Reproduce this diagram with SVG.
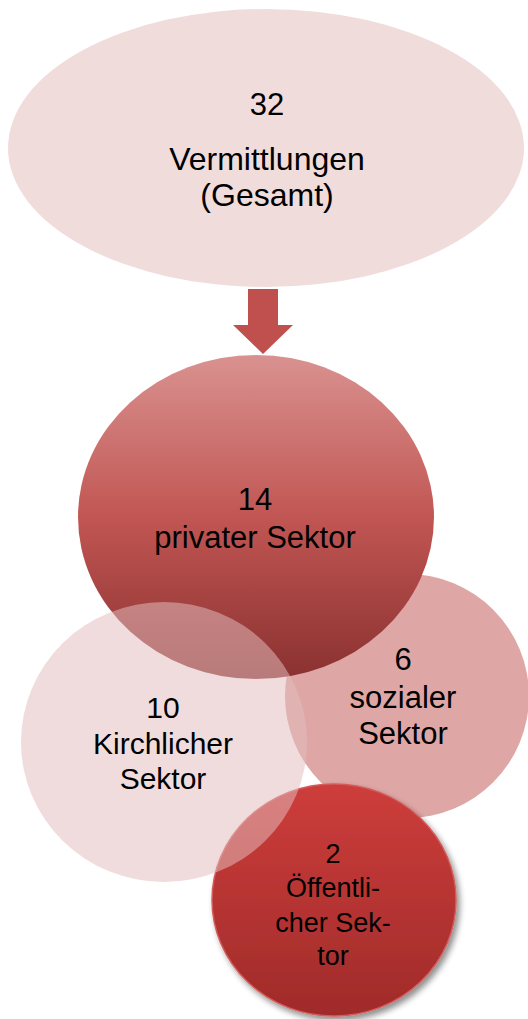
<svg xmlns="http://www.w3.org/2000/svg" width="528" height="1019" viewBox="0 0 528 1019">
<defs>
<style>
text{font-family:"Liberation Sans",Arial,sans-serif;fill:#000;text-anchor:middle}
.t32{font-size:32px}
.t31{font-size:31px}
.t30{font-size:30px}
.t27{font-size:27px}
</style>
<linearGradient id="gPriv" x1="0" y1="0" x2="0" y2="1">
<stop offset="0" stop-color="#d99290"/>
<stop offset="0.5" stop-color="#c15653"/>
<stop offset="1" stop-color="#8a3130"/>
</linearGradient>
<linearGradient id="gOeff" x1="0" y1="0" x2="0" y2="1">
<stop offset="0" stop-color="#cd3d3b"/>
<stop offset="1" stop-color="#a02b2a"/>
</linearGradient>
<filter id="shadow" x="-20%" y="-20%" width="150%" height="150%">
<feGaussianBlur in="SourceAlpha" stdDeviation="3"/>
<feOffset dx="3" dy="4" result="b"/>
<feComponentTransfer><feFuncA type="linear" slope="0.45"/></feComponentTransfer>
<feMerge><feMergeNode/><feMergeNode in="SourceGraphic"/></feMerge>
</filter>
</defs>
<rect width="528" height="1019" fill="#fff"/>
<g id="gesamt">
<ellipse cx="266" cy="148" rx="258" ry="139" fill="#f1dcdc"/>
<text class="t31" x="267" y="115">32</text>
<text class="t32" x="267" y="170">Vermittlungen</text>
<text class="t32" x="267" y="206">(Gesamt)</text>
</g>
<g id="connectors">
<polygon points="248,289 278,289 278,325 293,325 263,354 233,325 248,325" fill="#c0504d"/>
</g>
<g id="sozial">
<circle cx="407" cy="696" r="122" fill="#dea7a6"/>
</g>
<g id="privat">
<ellipse cx="256" cy="517" rx="178" ry="162" fill="url(#gPriv)"/>
</g>
<g id="oeffentlich">
<ellipse cx="334" cy="900" rx="122" ry="116" fill="url(#gOeff)" stroke="#d35c5a" stroke-width="1.5" filter="url(#shadow)"/>
</g>
<g id="kirchlich">
<ellipse cx="164" cy="742" rx="143" ry="140" fill="#e2bcbc" fill-opacity="0.53"/>
</g>
<g id="labels">
<text class="t31" x="255" y="510">14</text>
<text class="t31" x="255" y="548">privater Sektor</text>
<text class="t31" x="403" y="670">6</text>
<text class="t31" x="403" y="708">sozialer</text>
<text class="t31" x="403" y="744">Sektor</text>
<text class="t30" x="163" y="718">10</text>
<text class="t30" x="163" y="754">Kirchlicher</text>
<text class="t30" x="163" y="789">Sektor</text>
<text class="t27" x="333" y="863">2</text>
<text class="t27" x="333" y="897">Öffentli-</text>
<text class="t27" x="333" y="932">cher Sek-</text>
<text class="t27" x="333" y="965">tor</text>
</g>
</svg>
